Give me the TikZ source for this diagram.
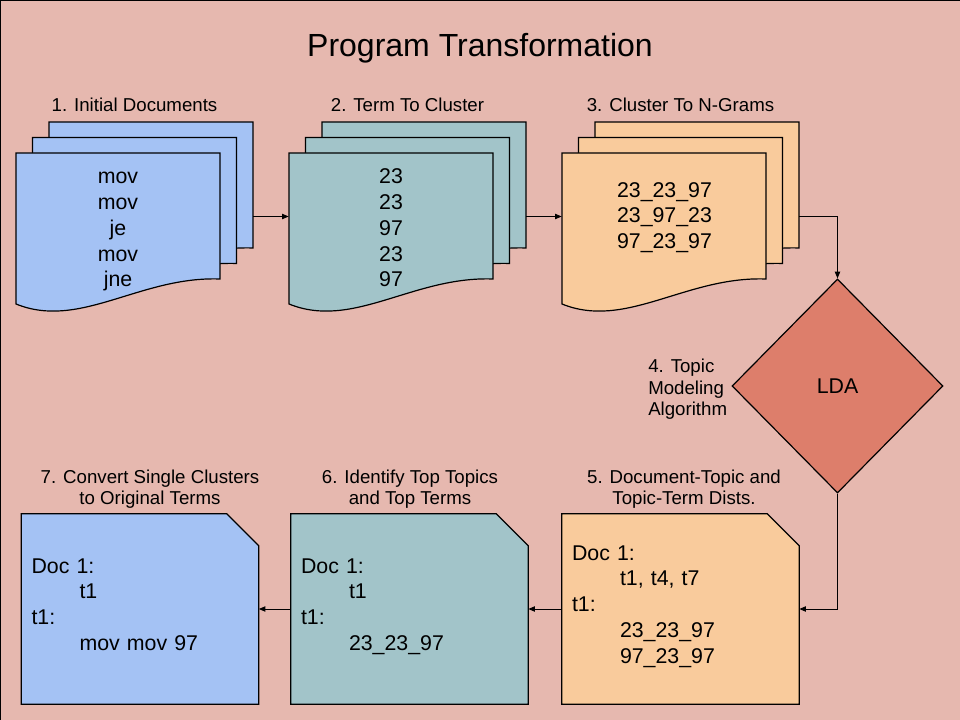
\documentclass[tikz,border=0pt]{standalone}
\usepackage{fontspec}
\setmainfont{Liberation Sans}
\usetikzlibrary{arrows.meta,shapes.geometric}
\definecolor{pagebg}{HTML}{E6B8AF}
\definecolor{docblue}{HTML}{A4C2F4}
\definecolor{docteal}{HTML}{A2C4C9}
\definecolor{docorange}{HTML}{F9CB9C}
\definecolor{ldared}{HTML}{DD7E6B}
\newcommand{\mybstrut}{\rule[-7.7pt]{0pt}{19.3pt}}
\newcommand{\mylstrut}{\rule[-3.75pt]{0pt}{16.15pt}}
\pgfdeclarelayer{bg}
\pgfdeclarelayer{shp}
\pgfsetlayers{bg,shp,main}
\tikzset{
  docsheet/.pic={\path[pic actions] (0,0) -- (204,0) -- (204,126)
     .. controls (124,123) and (64,177) .. (0,151) -- cycle;},
  sheetstyle/.style={draw=black, line width=0.9pt, fill=#1},
  stackbox/.style={inner sep=0pt, minimum width=177.75pt, minimum height=141.75pt},
  notebox/.style={inner xsep=7.5pt, inner ysep=0pt, minimum height=142.5pt,
     text width=162.75pt, align=left, font=\fontsize{16pt}{19.3pt}\selectfont},
  stacktext/.style={inner sep=0pt, align=center, font=\fontsize{16pt}{19.3pt}\selectfont},
  lbl/.style={inner sep=0pt, font=\fontsize{14pt}{16.15pt}\selectfont},
  conn/.style={draw=black, line width=0.75pt, -{Triangle[length=5pt,width=4pt]}},
}
\begin{document}
\begin{tikzpicture}[x=0.75pt,y=-0.75pt]
\useasboundingbox (0,0) rectangle (960,720);
\begin{pgfonlayer}{bg}
  \fill[pagebg] (0,0) rectangle (960,720);
  \draw[line width=0.75pt] (0.5,720) -- (0.5,0.5) -- (960,0.5);
\end{pgfonlayer}

% title
\node[inner sep=0pt, anchor=base, font=\fontsize{24pt}{28pt}\selectfont] (title) at (480,56.7) {Program Transformation};

% stack 1
\node[stackbox] (st1) at (134.5,216.5) {};
\pic[sheetstyle=docblue] at (49,122) {docsheet};
\pic[sheetstyle=docblue] at (32.5,137.5) {docsheet};
\pic[sheetstyle=docblue] at (16,153) {docsheet};
\node[stacktext] (tx1) at (118,232.75) {\mybstrut mov\\\mybstrut mov\\\mybstrut je\\\mybstrut mov\\\mybstrut jne};
\node[lbl, anchor=base] (l1) at (134.5,111.7) {1. Initial Documents};

% stack 2
\node[stackbox] (st2) at (407.5,216.5) {};
\pic[sheetstyle=docteal] at (322,122) {docsheet};
\pic[sheetstyle=docteal] at (305.5,137.5) {docsheet};
\pic[sheetstyle=docteal] at (289,153) {docsheet};
\node[stacktext] (tx2) at (391,232.75) {\mybstrut 23\\\mybstrut 23\\\mybstrut 97\\\mybstrut 23\\\mybstrut 97};
\node[lbl, anchor=base] (l2) at (407.5,111.7) {2. Term To Cluster};

% stack 3
\node[stackbox] (st3) at (680.5,216.5) {};
\pic[sheetstyle=docorange] at (595,122) {docsheet};
\pic[sheetstyle=docorange] at (578.5,137.5) {docsheet};
\pic[sheetstyle=docorange] at (562,153) {docsheet};
\node[stacktext] (tx3) at (664.5,220.4) {\mybstrut 23\_23\_97\\\mybstrut 23\_97\_23\\\mybstrut 97\_23\_97};
\node[lbl, anchor=base] (l3) at (680.5,111.7) {3. Cluster To N-Grams};

% LDA diamond
\node[diamond, aspect=1, inner sep=0pt, minimum width=158.25pt, minimum height=160.5pt,
      draw=black, line width=0.9pt, fill=ldared, font=\fontsize{16pt}{19.3pt}\selectfont] (lda) at (837.5,386) {LDA};
\node[lbl, anchor=west, align=left] (l4) at (648,388.6) {\mylstrut 4. Topic\\\mylstrut Modeling\\\mylstrut Algorithm};

% bottom boxes
\node[notebox] (b5) at (680.5,609) {\mybstrut Doc 1:\\\mybstrut\hspace*{36pt}t1, t4, t7\\\mybstrut t1:\\\mybstrut\hspace*{36pt}23\_23\_97\\\mybstrut\hspace*{36pt}97\_23\_97};
\node[notebox] (b6) at (409.5,609) {\mybstrut Doc 1:\\\mybstrut\hspace*{36pt}t1\\\mybstrut t1:\\\mybstrut\hspace*{36pt}23\_23\_97};
\node[notebox] (b7) at (140,609) {\mybstrut Doc 1:\\\mybstrut\hspace*{36pt}t1\\\mybstrut t1:\\\mybstrut\hspace*{36pt}mov mov 97};
\begin{pgfonlayer}{shp}
  \draw[sheetstyle=docorange] (b5.north west) -- ([xshift=-24pt]b5.north east) -- ([yshift=-24pt]b5.north east) -- (b5.south east) -- (b5.south west) -- cycle;
  \draw[sheetstyle=docteal] (b6.north west) -- ([xshift=-24pt]b6.north east) -- ([yshift=-24pt]b6.north east) -- (b6.south east) -- (b6.south west) -- cycle;
  \draw[sheetstyle=docblue] (b7.north west) -- ([xshift=-24pt]b7.north east) -- ([yshift=-24pt]b7.north east) -- (b7.south east) -- (b7.south west) -- cycle;
\end{pgfonlayer}
\node[lbl, align=center] (l5) at (684,488.4) {\mylstrut 5. Document-Topic and\\\mylstrut Topic-Term Dists.};
\node[lbl, align=center] (l6) at (410,488.4) {\mylstrut 6. Identify Top Topics\\\mylstrut and Top Terms};
\node[lbl, align=center] (l7) at (150,488.4) {\mylstrut 7. Convert Single Clusters\\\mylstrut to Original Terms};

% connectors
\draw[conn] (st1.east) -- (st2.west);
\draw[conn] (st2.east) -- (st3.west);
\draw[conn] (st3.east) -| (lda.north);
\draw[conn] (lda.south) |- (b5.east);
\draw[conn] (b5.west) -- (b6.east);
\draw[conn] (b6.west) -- (b7.east);
\end{tikzpicture}
\end{document}
